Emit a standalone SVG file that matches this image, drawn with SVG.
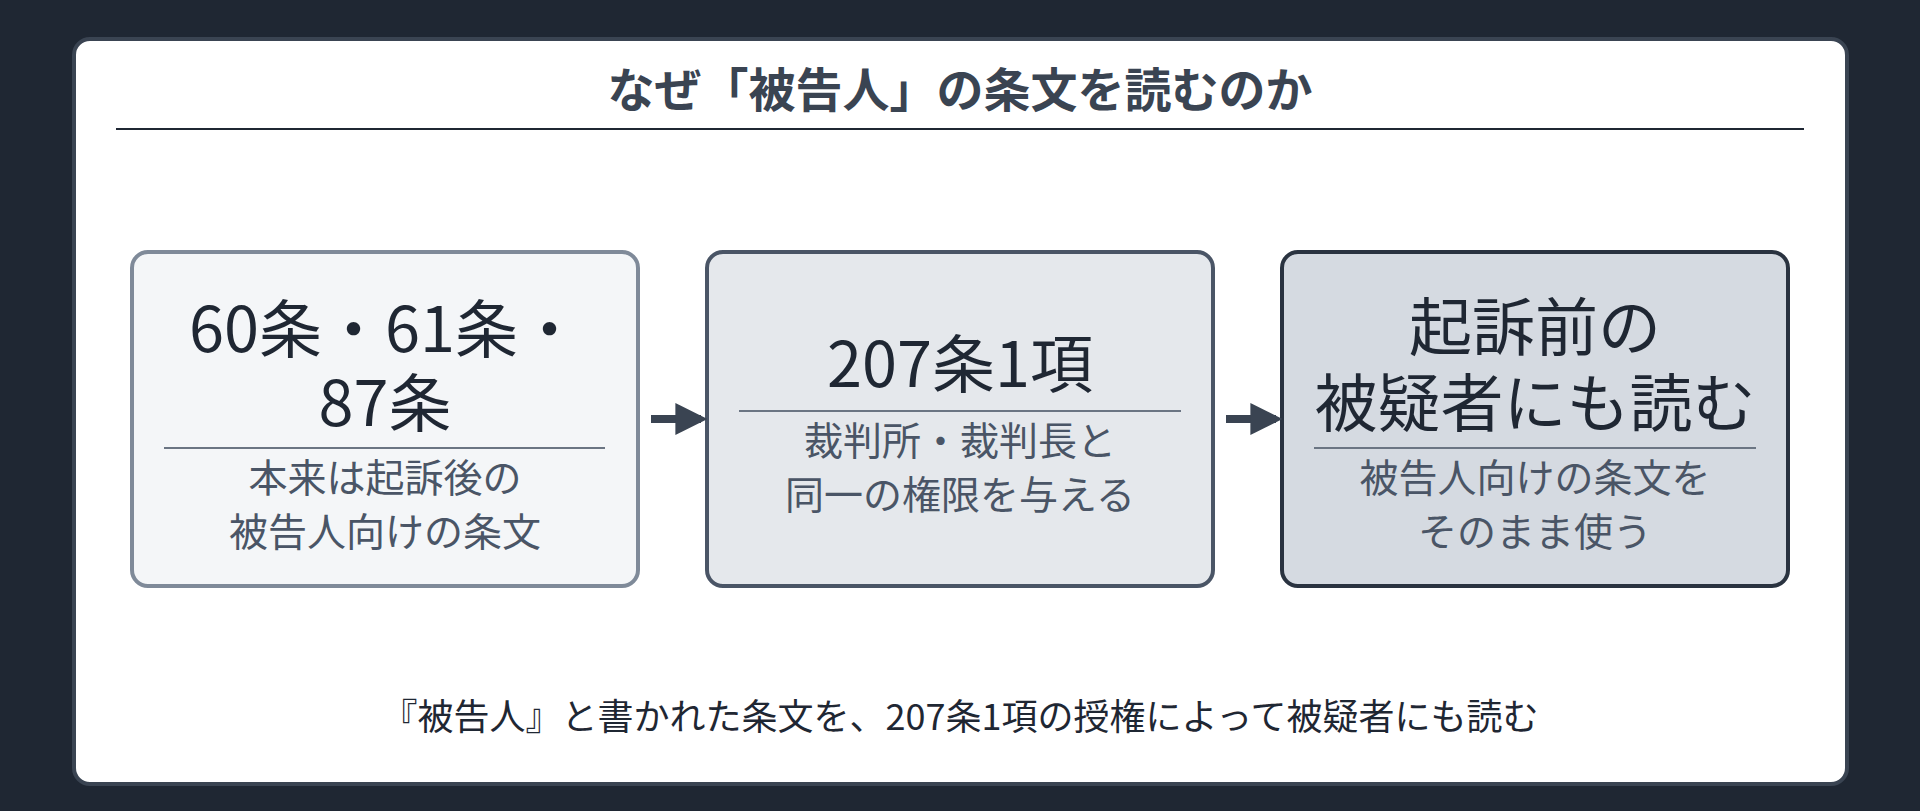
<svg xmlns="http://www.w3.org/2000/svg" width="1920" height="811" viewBox="0 0 1920 811">
<defs>
<style>
text{font-family:"Noto Sans CJK JP","Noto Sans",sans-serif;text-anchor:middle;dominant-baseline:central}
.main{font-size:63px;fill:#1f2733}
.sub{font-size:39px;fill:#4a5566}
.div{stroke:#6b7583;stroke-width:2}
</style>
<marker id="ah" viewBox="0 0 10 10" refX="8" refY="5" markerWidth="4" markerHeight="4" orient="auto"><path d="M0,0 L10,5 L0,10 z" fill="#3a4452"/></marker>
</defs>
<rect width="1920" height="811" fill="#1f2733"/>
<rect x="74" y="39" width="1773" height="745" rx="16" fill="#fff" stroke="#3a4452" stroke-width="4"/>
<text x="960" y="86" style="font-size:47px;font-weight:bold;fill:#3a4452">なぜ「被告人」の条文を読むのか</text>
<line x1="116" y1="129" x2="1804" y2="129" stroke="#1f2733" stroke-width="2"/>
<g id="n1">
<rect x="132" y="252" width="506" height="334" rx="16" fill="#f4f6f8" stroke="#7f8a99" stroke-width="4"/>
<text class="main" x="385" y="324">60条・61条・</text>
<text class="main" x="385" y="398">87条</text>
<line class="div" x1="164" y1="448" x2="605" y2="448"/>
<text class="sub" x="385" y="475">本来は起訴後の</text>
<text class="sub" x="385" y="529">被告人向けの条文</text>
</g>
<g id="n2">
<rect x="707" y="252" width="506" height="334" rx="16" fill="#e5e8ec" stroke="#4a5566" stroke-width="4"/>
<text class="main" x="960" y="359">207条1項</text>
<line class="div" x1="739" y1="411" x2="1181" y2="411"/>
<text class="sub" x="960" y="438">裁判所・裁判長と</text>
<text class="sub" x="960" y="492">同一の権限を与える</text>
</g>
<g id="n3">
<rect x="1282" y="252" width="506" height="334" rx="16" fill="#d5dae1" stroke="#2a3340" stroke-width="4"/>
<text class="main" x="1535" y="322">起訴前の</text>
<text class="main" x="1535" y="398">被疑者にも読む</text>
<line class="div" x1="1314" y1="448" x2="1756" y2="448"/>
<text class="sub" x="1535" y="475">被告人向けの条文を</text>
<text class="sub" x="1535" y="529">そのまま使う</text>
</g>
<g id="connectors" stroke="#3a4452" stroke-width="8">
<line x1="651" y1="419" x2="701" y2="419" marker-end="url(#ah)"/>
<line x1="1226" y1="419" x2="1276" y2="419" marker-end="url(#ah)"/>
</g>
<text x="960" y="714" style="font-size:36px;fill:#1f2733">『被告人』と書かれた条文を、207条1項の授権によって被疑者にも読む</text>
</svg>
